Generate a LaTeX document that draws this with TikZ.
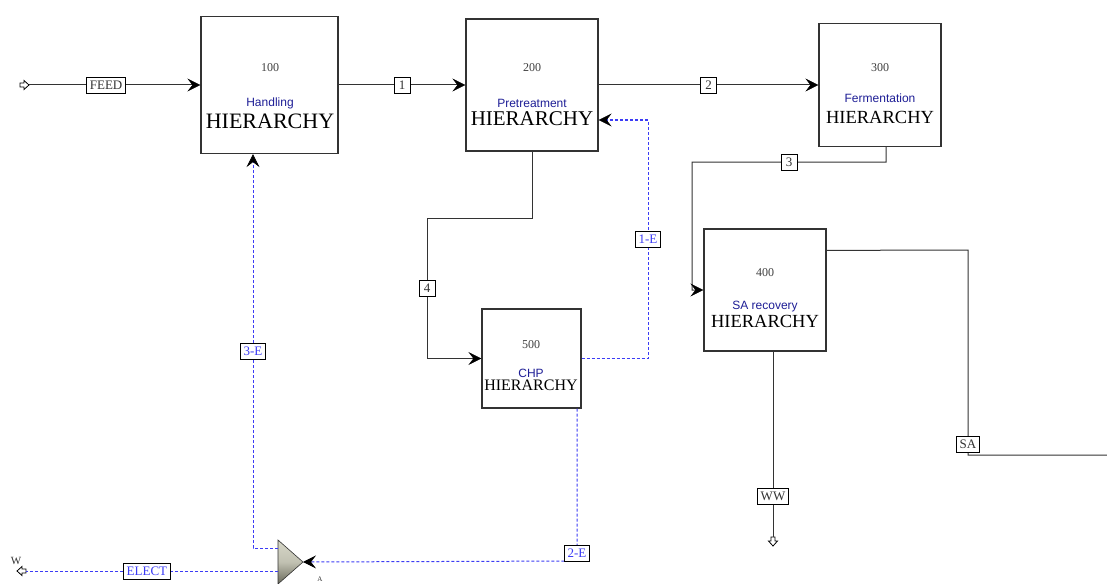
\documentclass[tikz,border=0pt]{standalone}
\usepackage{fontspec}
\setmainfont{Liberation Serif}
\newfontfamily\sansf{Liberation Sans}
\usetikzlibrary{arrows.meta,calc}
\definecolor{navy}{RGB}{30,30,150}
\definecolor{eblue}{RGB}{60,60,245}
\definecolor{mixlight}{RGB}{215,215,200}
\definecolor{mixdark}{RGB}{105,105,90}
\begin{document}
\begin{tikzpicture}[x=1pt,y=-1pt,
  blk/.style={draw=black!80, line width=1.2pt, fill=white, inner sep=0pt},
  num/.style={font=\fontsize{12}{12}\selectfont, text=black!75, inner sep=0pt},
  nm/.style={font=\sansf\fontsize{12}{12}\selectfont, text=navy, inner sep=0pt},
  hier/.style={font=\fontsize{#1}{#1}\selectfont, inner sep=0pt},
  tip/.style={-{Stealth[length=13pt,width=13pt,inset=5pt,color=black,line width=0.6pt]}},
  line/.style={draw=black!80, line width=1pt},
  flow/.style={line, tip},
  eline/.style={draw=eblue, line width=1pt, dash pattern=on 3pt off 2pt},
  eflow/.style={eline, tip},
  lbl/.style={draw=black, solid, fill=white, line width=0.8pt, font=\fontsize{13}{13}\selectfont, text=black!80, inner xsep=3pt, inner ysep=1pt, minimum height=16pt, minimum width=16pt},
  elbl/.style={lbl, text=eblue},
  hollow/.style={draw=black, fill=white, line width=0.8pt},
]
\useasboundingbox (0,0) rectangle (1107,583);

% blocks
\node[blk, minimum width=137pt, minimum height=137pt] (b100) at (269.5,85) {};
\node[blk, minimum width=132pt, minimum height=132pt] (b200) at (532,85) {};
\node[blk, minimum width=122pt, minimum height=123pt] (b300) at (880,85) {};
\node[blk, minimum width=122pt, minimum height=122pt] (b400) at (765,290) {};
\node[blk, minimum width=99pt, minimum height=99pt] (b500) at (531.5,358.5) {};

\node[num] (n100) at (270,68) {100};
\node[nm] (m100) at (270,103) {Handling};
\node[hier=22] (h100) at (270,121) {HIERARCHY};

\node[num] (n200) at (532,68) {200};
\node[nm] (m200) at (532,103) {Pretreatment};
\node[hier=21] (h200) at (532,119) {HIERARCHY};

\node[num] (n300) at (880,68) {300};
\node[nm] (m300) at (880,98) {Fermentation};
\node[hier=18.5] (h300) at (880,117) {HIERARCHY};

\node[num] (n400) at (765,273) {400};
\node[nm] (m400) at (765,307) {SA recovery};
\node[hier=18.5] (h400) at (765,321) {HIERARCHY};

\node[num] (n500) at (531,345) {500};
\node[nm] (m500) at (531,373) {CHP};
\node[hier=16] (h500) at (531,385) {HIERARCHY};

% terminals
\coordinate (feedin) at (29,85);
\draw[hollow] (20,83) -- (24,83) -- (24,80.5) -- (29,85) -- (24,89.5) -- (24,87) -- (20,87) -- cycle;
\coordinate (wwout) at (773,537);
\draw[hollow] (771,537) -- (775,537) -- (775,541) -- (777.5,541) -- (773,546) -- (768.5,541) -- (771,541) -- cycle;
\coordinate (elout) at (26,571);
\draw[hollow] (26,569) -- (22,569) -- (22,566.5) -- (17,571) -- (22,575.5) -- (22,573) -- (26,573) -- cycle;
\coordinate (saout) at (1107,455);
\node[font=\fontsize{11}{11}\selectfont, text=black!80, inner sep=0pt] (wlbl) at (16,561) {W};

% mixer
\coordinate (mxtip) at (303,562);
\coordinate (mxtl) at (278,548);
\coordinate (mxl) at (278,571);
\shade[draw=black!80, line width=0.6pt, top color=mixlight, bottom color=mixdark, middle color=mixlight!80!mixdark]
  (278,540) -- (mxtip) -- (278,584) -- cycle;
\node[font=\fontsize{7}{7}\selectfont, text=black!80, inner sep=0pt] (alabel) at (320,579) {A};

% material streams
\draw[flow] (feedin) -- node[lbl, pos=0.45] (sfeed) {FEED} (b100.west);
\draw[flow] (b100.east) -- node[lbl] (s1) {1} (b200.west);
\draw[flow] (b200.east) -- node[lbl] (s2) {2} (b300.west);
\draw[flow] ($(b300.south)+(6,0)$) -- ++(0,15) -- node[lbl] (s3) {3} (692,162) |- (b400.west);
\draw[flow] (b200.south) |- (427,218) -- node[lbl] (s4) {4} (427,358.5) -- (b500.west);
\draw[line] ($(b400.north east)+(0,22)$) -- (968,250) -- node[lbl, pos=0.95] (ssa) {SA} (968,455) -- (saout);
\draw[line] ($(b400.south)+(8,0)$) -- node[lbl, pos=0.78] (sww) {WW} (wwout);

% electricity streams
\draw[eflow] (b500.east) -- (648,358.5) -- node[elbl] (s1e) {1-E} (648,120) -- ($(b200.east)+(0,35)$);
\draw[eflow] ($(b500.south)+(45.5,0)$) -- node[elbl, pos=0.95] (s2e) {2-E} (577,561) -- (mxtip);
\draw[eflow] (mxtl) -- (253,548) -- node[elbl] (s3e) {3-E} ($(b100.south)+(-16.5,0)$);
\draw[eline] (mxl) -- node[elbl, pos=0.52] (select) {ELECT} (elout);
\end{tikzpicture}
\end{document}
